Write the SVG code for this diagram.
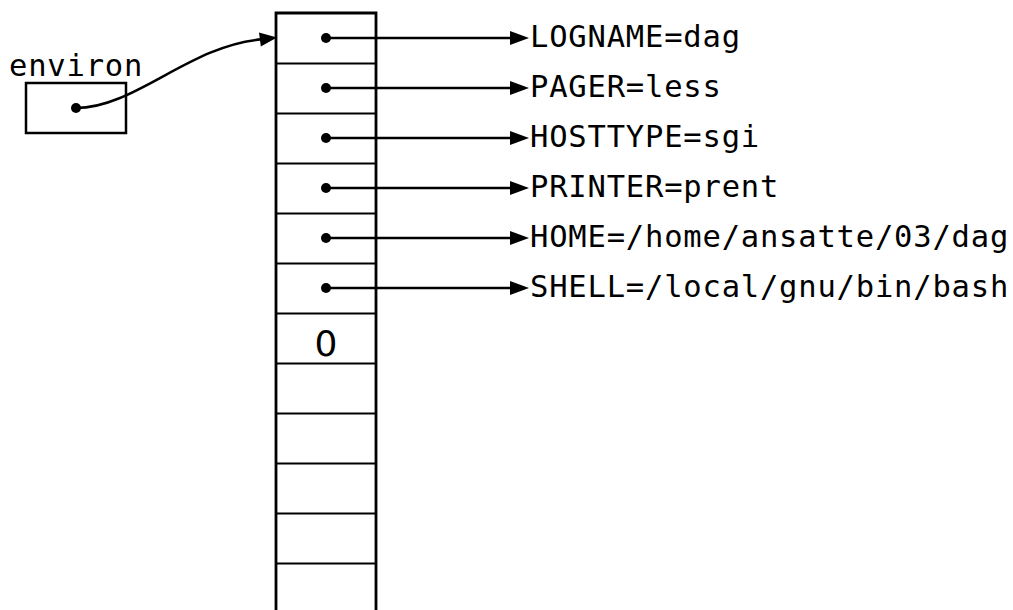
<svg xmlns="http://www.w3.org/2000/svg" width="1013" height="610" viewBox="0 0 1013 610">
<style>
.lbl{font-family:"DejaVu Sans Mono","Liberation Mono",monospace;font-size:30.5px;letter-spacing:0.8px;fill:#000}
.zero{font-family:"DejaVu Sans","Liberation Sans",sans-serif;font-size:36px;fill:#000}
.div{stroke:#000;stroke-width:2;fill:none}
.edge{stroke:#000;stroke-width:2.5;fill:none}
.dot{fill:#000}
.head{fill:#000}
</style>
<rect width="1013" height="610" fill="#fff"/>
<g id="environ">
<text class="lbl" x="9" y="76">environ</text>
<rect x="26" y="83" width="100" height="50" fill="none" stroke="#000" stroke-width="2.5"/>
<circle class="dot" cx="76" cy="108" r="5"/>
</g>
<g id="array">
<path d="M276,610 V13 H376 V610" fill="none" stroke="#000" stroke-width="2.8"/>
<path class="div" d="M276,63.5H376M276,113.5H376M276,163.5H376M276,213.5H376M276,263.5H376M276,313.5H376M276,363.5H376M276,413.5H376M276,463.5H376M276,513.5H376M276,563.5H376"/>
<circle class="dot" cx="326" cy="38" r="5"/>
<circle class="dot" cx="326" cy="88" r="5"/>
<circle class="dot" cx="326" cy="138" r="5"/>
<circle class="dot" cx="326" cy="188" r="5"/>
<circle class="dot" cx="326" cy="238" r="5"/>
<circle class="dot" cx="326" cy="288" r="5"/>
<text class="zero" x="326" y="356" text-anchor="middle">0</text>
</g>
<g id="strings">
<text class="lbl" x="530" y="47">LOGNAME=dag</text>
<text class="lbl" x="530" y="97">PAGER=less</text>
<text class="lbl" x="530" y="147">HOSTTYPE=sgi</text>
<text class="lbl" x="530" y="197">PRINTER=prent</text>
<text class="lbl" x="530" y="247">HOME=/home/ansatte/03/dag</text>
<text class="lbl" x="530" y="297">SHELL=/local/gnu/bin/bash</text>
</g>
<g id="connectors">
<path class="edge" d="M76,108 C135,108 190,45 262,39.3"/>
<polygon class="head" points="277,37.5 259,32.5 260.8,46.5"/>
<path class="edge" d="M326,38H512M326,88H512M326,138H512M326,188H512M326,238H512M326,288H512"/>
<polygon class="head" points="529,38 510,31 510,45"/>
<polygon class="head" points="529,88 510,81 510,95"/>
<polygon class="head" points="529,138 510,131 510,145"/>
<polygon class="head" points="529,188 510,181 510,195"/>
<polygon class="head" points="529,238 510,231 510,245"/>
<polygon class="head" points="529,288 510,281 510,295"/>
</g>
</svg>
